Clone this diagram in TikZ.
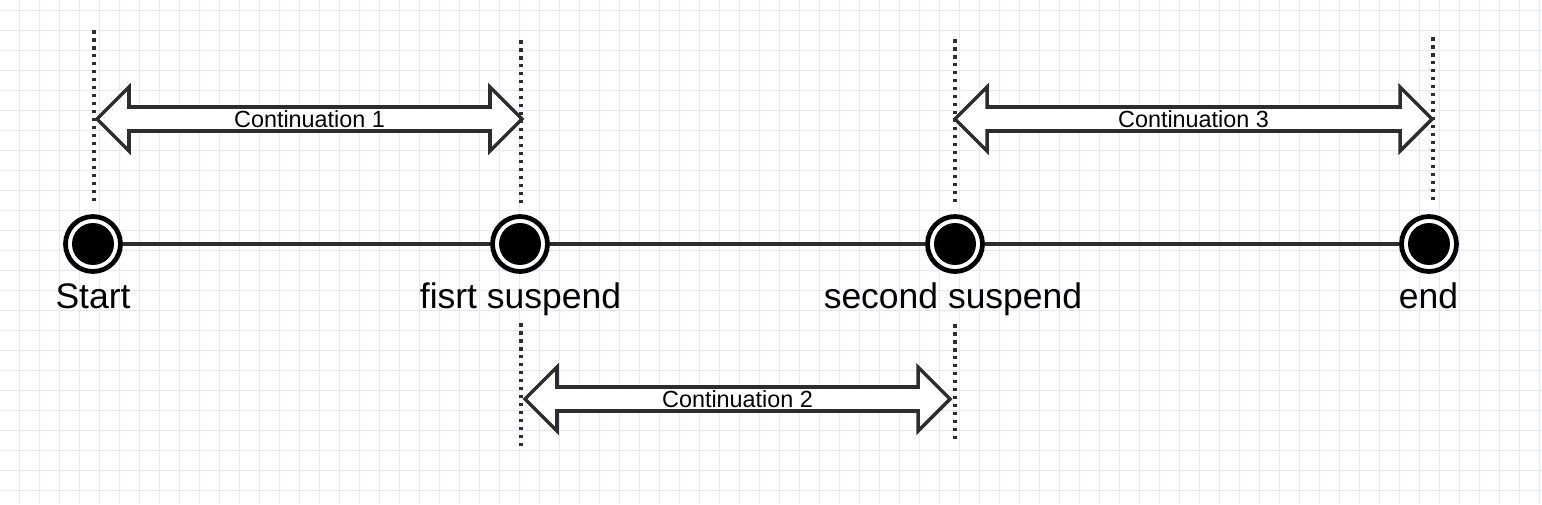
\documentclass[tikz,border=0pt]{standalone}
\usepackage{fontspec}
\setmainfont{Liberation Sans}
\usepackage{xcolor}
\definecolor{gridblue}{RGB}{230,230,252}
\definecolor{linegray}{RGB}{45,45,45}

\tikzset{
  state/.style={circle, draw=black, line width=2.7pt, fill=white, minimum size=1.1cm, inner sep=0pt,
    path picture={\fill[black] (path picture bounding box.center) circle (0.42cm);}},
  track/.style={draw=linegray, line width=2.1pt},
  guide/.style={draw=linegray, line width=2.1pt, dash pattern=on 2pt off 2.55pt},
  contarrow/.style={draw=linegray, fill=white, line width=2pt, line join=miter},
  contlbl/.style={font=\fontsize{13.3}{15}\selectfont, inner sep=0pt},
  statelbl/.style={font=\fontsize{20.2}{23}\selectfont, anchor=base, inner sep=0pt}
}

\begin{document}
\begin{tikzpicture}[x=0.02cm,y=-0.02cm]
  % canvas and grid
  \useasboundingbox (0,0) rectangle (1542,504);
  \fill[white] (0,0) rectangle (1542,504);
  \foreach \x in {19.5,39.5,...,1540}
    \draw[gridblue, line width=0.7pt] (\x,0) -- (\x,504);
  \foreach \y in {10.7,30.7,...,504}
    \draw[gridblue, line width=0.7pt] (0,\y) -- (1542,\y);

  % dotted guides
  \draw[guide] (94,30) -- (94,203);
  \draw[guide] (521,40) -- (521,204);
  \draw[guide] (521,323) -- (521,446);
  \draw[guide] (955,39) -- (955,203);
  \draw[guide] (955,324) -- (955,443);
  \draw[guide] (1433,37) -- (1433,201);

  % continuations
  \foreach \a/\b/\y/\t [count=\i] in {97/522/119/Continuation 1, 525/950/399/Continuation 2, 955/1432/119/Continuation 3}{
    \draw[contarrow] (\a,\y) -- (\a+32,\y-32) -- (\a+32,\y-12) -- (\b-32,\y-12) -- (\b-32,\y-32)
      -- (\b,\y) -- (\b-32,\y+32) -- (\b-32,\y+12) -- (\a+32,\y+12) -- (\a+32,\y+32) -- cycle;
    \node[contlbl] (cont\i) at ({(\a+\b)/2},\y) {\t};
  }

  % states
  \node[state] (start) at (93,244) {};
  \node[state] (first) at (520,244) {};
  \node[state] (second) at (955,244) {};
  \node[state] (end) at (1429,244) {};

  \draw[track] (start) -- (first);
  \draw[track] (first) -- (second);
  \draw[track] (second) -- (end);

  \node[statelbl] (startlbl) at (93,308) {Start};
  \node[statelbl] (firstlbl) at (520.5,308) {fisrt suspend};
  \node[statelbl] (secondlbl) at (953,308) {second suspend};
  \node[statelbl] (endlbl) at (1428.5,308) {end};
\end{tikzpicture}
\end{document}
